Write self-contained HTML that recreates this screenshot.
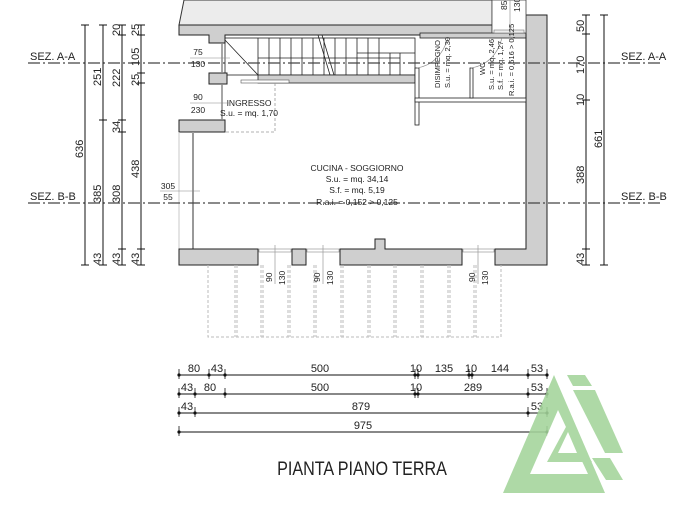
<!DOCTYPE html>
<html><head><meta charset="utf-8"><style>
html,body{margin:0;padding:0;background:#fff;}
svg{display:block;}
text{font-family:"Liberation Sans",sans-serif;fill:#222;}
</style></head><body>
<svg width="677" height="524" viewBox="0 0 677 524" xmlns="http://www.w3.org/2000/svg">
<polygon points="184,0 492,0 492,25 179,25" fill="#ececec" stroke="#333" stroke-width="1"/>
<polygon points="179,25 492,25 492,35 225,35 225,43 209,43 209,35 179,35" fill="#cfcfcf" stroke="#222" stroke-width="1"/>
<rect x="420" y="33" width="106" height="5" fill="#cfcfcf" stroke="#222" stroke-width="0.8"/>
<g stroke="#222" stroke-width="0.8" fill="none">
<rect x="225" y="38" width="190" height="37"/>
<line x1="225" y1="40" x2="258" y2="75"/>
<line x1="258" y1="58" x2="400" y2="58"/>
<line x1="258" y1="38" x2="258" y2="75"/><line x1="269" y1="38" x2="269" y2="75"/><line x1="280" y1="38" x2="280" y2="75"/>
<line x1="291" y1="38" x2="291" y2="75"/><line x1="302" y1="38" x2="302" y2="75"/><line x1="313" y1="38" x2="313" y2="75"/>
<line x1="324" y1="38" x2="324" y2="75"/><line x1="335" y1="38" x2="335" y2="75"/><line x1="346" y1="38" x2="346" y2="75"/>
<line x1="357" y1="38" x2="357" y2="75"/><line x1="368" y1="38" x2="368" y2="75"/><line x1="379" y1="38" x2="379" y2="75"/>
<line x1="390" y1="53" x2="390" y2="75"/><line x1="400" y1="53" x2="400" y2="75"/>
<line x1="357" y1="53" x2="415" y2="53"/>
<line x1="318" y1="35" x2="330" y2="75"/><line x1="322" y1="35" x2="334" y2="75"/>
</g>
<rect x="258" y="75" width="157" height="8" fill="#cfcfcf" stroke="#222" stroke-width="0.8"/>
<rect x="241" y="80" width="48" height="3" fill="#fff" stroke="#555" stroke-width="0.6"/>
<rect x="209" y="73" width="18" height="11" fill="#cfcfcf" stroke="#222" stroke-width="1"/>
<rect x="179" y="120" width="46" height="12" fill="#cfcfcf" stroke="#222" stroke-width="1"/>
<polyline points="275,83 275,132 225,132" fill="none" stroke="#999" stroke-width="0.8" stroke-dasharray="3,2"/>
<line x1="222" y1="43" x2="222" y2="73" stroke="#888" stroke-width="1.5"/>
<line x1="222" y1="84" x2="222" y2="120" stroke="#888" stroke-width="1.5"/>
<line x1="193" y1="132" x2="193" y2="249" stroke="#999" stroke-width="2"/>
<line x1="179" y1="132" x2="179" y2="249" stroke="#bbb" stroke-width="0.8"/>
<polygon points="526,15 547,15 547,265 495,265 495,249 526,249" fill="#cfcfcf" stroke="#222" stroke-width="1"/>
<rect x="492" y="0" width="34" height="33" fill="#fff" stroke="#444" stroke-width="0.8"/>
<rect x="494" y="30" width="30" height="3" fill="#eee" stroke="#777" stroke-width="0.6"/>
<rect x="415" y="68" width="4" height="57" fill="#fff" stroke="#222" stroke-width="0.8"/>
<rect x="415" y="98" width="111" height="4" fill="#fff" stroke="#222" stroke-width="0.8"/>
<rect x="470" y="68" width="3" height="30" fill="#fff" stroke="#222" stroke-width="0.8"/>
<path d="M417,68 Q440,64 448,38" fill="none" stroke="#888" stroke-width="0.6"/>
<path d="M471,68 Q495,64 502,38" fill="none" stroke="#888" stroke-width="0.6"/>
<g fill="#cfcfcf" stroke="#222" stroke-width="1">
<rect x="179" y="249" width="79" height="16"/>
<rect x="292" y="249" width="14" height="16"/>
<polygon points="340,249 375,249 375,239 385,239 385,249 462,249 462,265 340,265"/>
</g>
<g fill="#fff" stroke="#888" stroke-width="0.6">
<rect x="259" y="249" width="32" height="3"/><rect x="307" y="249" width="32" height="3"/><rect x="463" y="249" width="31" height="3"/>
</g>
<g fill="none" stroke="#bbb" stroke-width="1" stroke-dasharray="3,2">
<polyline points="208,265 208,337 501,337 501,265"/>
<line x1="235" y1="265" x2="235" y2="337"/><line x1="237" y1="265" x2="237" y2="337"/>
<line x1="261" y1="265" x2="261" y2="337"/><line x1="263" y1="265" x2="263" y2="337"/>
<line x1="288" y1="265" x2="288" y2="337"/><line x1="290" y1="265" x2="290" y2="337"/>
<line x1="314" y1="265" x2="314" y2="337"/><line x1="316" y1="265" x2="316" y2="337"/>
<line x1="341" y1="265" x2="341" y2="337"/><line x1="343" y1="265" x2="343" y2="337"/>
<line x1="368" y1="265" x2="368" y2="337"/><line x1="370" y1="265" x2="370" y2="337"/>
<line x1="394" y1="265" x2="394" y2="337"/><line x1="396" y1="265" x2="396" y2="337"/>
<line x1="421" y1="265" x2="421" y2="337"/><line x1="423" y1="265" x2="423" y2="337"/>
<line x1="448" y1="265" x2="448" y2="337"/><line x1="450" y1="265" x2="450" y2="337"/>
<line x1="474" y1="265" x2="474" y2="337"/><line x1="476" y1="265" x2="476" y2="337"/>
</g>
<g stroke="#999" stroke-width="0.7"><line x1="275" y1="245" x2="275" y2="284"/><line x1="323" y1="245" x2="323" y2="284"/><line x1="478" y1="245" x2="478" y2="284"/><line x1="510" y1="0" x2="510" y2="40"/></g>
<g font-size="8.5">
<text transform="translate(272,282) rotate(-90)">90</text><text transform="translate(285,285) rotate(-90)">130</text>
<text transform="translate(320,282) rotate(-90)">90</text><text transform="translate(333,285) rotate(-90)">130</text>
<text transform="translate(475,282) rotate(-90)">90</text><text transform="translate(488,285) rotate(-90)">130</text>
<text transform="translate(507,10) rotate(-90)">85</text><text transform="translate(520,12) rotate(-90)">130</text>
</g>
<g stroke="#444" stroke-width="1.2" stroke-dasharray="12,3,2,3">
<line x1="28" y1="63" x2="660" y2="63"/><line x1="28" y1="203" x2="660" y2="203"/>
</g>
<g font-size="11"><text x="30" y="60">SEZ. A-A</text><text x="30" y="200">SEZ. B-B</text><text x="621" y="60">SEZ. A-A</text><text x="621" y="200">SEZ. B-B</text></g>
<g font-size="8.5" text-anchor="middle">
<text x="357" y="171">CUCINA - SOGGIORNO</text>
<text x="357" y="182">S.u. = mq. 34,14</text>
<text x="357" y="193">S.f. = mq. 5,19</text>
<text x="357" y="205">R.a.i. = 0,152 &gt; 0,125</text>
<text x="249" y="106">INGRESSO</text>
<text x="249" y="116">S.u. = mq. 1,70</text>
<text x="198" y="55">75</text><text x="198" y="67">130</text>
<text x="198" y="100">90</text><text x="198" y="113">230</text>
<text x="168" y="189">305</text><text x="168" y="200">55</text>
</g>
<g stroke="#888" stroke-width="0.6"><line x1="190" y1="58" x2="230" y2="58"/><line x1="190" y1="103" x2="230" y2="103"/><line x1="160" y1="191" x2="200" y2="191"/></g>
<g font-size="7.5">
<text transform="translate(440,88) rotate(-90)">DISIMPEGNO</text>
<text transform="translate(450,88) rotate(-90)">S.u. = mq. 2,30</text>
<text transform="translate(485,75) rotate(-90)">WC</text>
<text transform="translate(494,90) rotate(-90)">S.u. = mq. 2,46</text>
<text transform="translate(503,90) rotate(-90)">S.f. = mq. 1,27</text>
<text transform="translate(514,96) rotate(-90)">R.a.i. = 0,516 &gt; 0,125</text>
</g>
<g stroke="#111" stroke-width="1">
<line x1="85" y1="25" x2="85" y2="265"/><line x1="103" y1="25" x2="103" y2="265"/>
<line x1="122" y1="25" x2="122" y2="265"/><line x1="141" y1="25" x2="141" y2="265"/>
<line x1="81" y1="25" x2="89" y2="25"/><line x1="81" y1="265" x2="89" y2="265"/>
<line x1="99" y1="25" x2="107" y2="25"/><line x1="99" y1="120" x2="107" y2="120"/><line x1="99" y1="265" x2="107" y2="265"/>
<line x1="118" y1="25" x2="126" y2="25"/><line x1="118" y1="35" x2="126" y2="35"/><line x1="118" y1="120" x2="126" y2="120"/><line x1="118" y1="132" x2="126" y2="132"/><line x1="118" y1="249" x2="126" y2="249"/><line x1="118" y1="265" x2="126" y2="265"/>
<line x1="137" y1="25" x2="145" y2="25"/><line x1="137" y1="35" x2="145" y2="35"/><line x1="137" y1="73" x2="145" y2="73"/><line x1="137" y1="83" x2="145" y2="83"/><line x1="137" y1="249" x2="145" y2="249"/><line x1="137" y1="265" x2="145" y2="265"/>
<line x1="582" y1="15" x2="590" y2="15"/><line x1="582" y1="34" x2="590" y2="34"/><line x1="582" y1="100" x2="590" y2="100"/><line x1="582" y1="249" x2="590" y2="249"/><line x1="582" y1="265" x2="590" y2="265"/>
<line x1="586" y1="15" x2="586" y2="265"/><line x1="604" y1="15" x2="604" y2="265"/>
<line x1="600" y1="15" x2="608" y2="15"/><line x1="600" y1="265" x2="608" y2="265"/>
</g>
<g font-size="11">
<text transform="translate(83,158) rotate(-90)">636</text>
<text transform="translate(101,86) rotate(-90)">251</text>
<text transform="translate(101,203) rotate(-90)">385</text>
<text transform="translate(101,265) rotate(-90)">43</text>
<text transform="translate(120,36) rotate(-90)">20</text>
<text transform="translate(120,87) rotate(-90)">222</text>
<text transform="translate(120,133) rotate(-90)">34</text>
<text transform="translate(120,203) rotate(-90)">308</text>
<text transform="translate(120,265) rotate(-90)">43</text>
<text transform="translate(139,36) rotate(-90)">25</text>
<text transform="translate(139,66) rotate(-90)">105</text>
<text transform="translate(139,86) rotate(-90)">25</text>
<text transform="translate(139,178) rotate(-90)">438</text>
<text transform="translate(139,265) rotate(-90)">43</text>
<text transform="translate(584,32) rotate(-90)">50</text>
<text transform="translate(584,74) rotate(-90)">170</text>
<text transform="translate(584,106) rotate(-90)">10</text>
<text transform="translate(584,184) rotate(-90)">388</text>
<text transform="translate(584,265) rotate(-90)">43</text>
<text transform="translate(602,148) rotate(-90)">661</text>
</g>
<g stroke="#111" stroke-width="1">
<line x1="179" y1="375" x2="547" y2="375"/><line x1="179" y1="394" x2="547" y2="394"/>
<line x1="179" y1="413" x2="547" y2="413"/><line x1="179" y1="432" x2="547" y2="432"/>
</g>
<g fill="#111">
<circle cx="179" cy="375" r="1.6"/><circle cx="209" cy="375" r="1.6"/><circle cx="225" cy="375" r="1.6"/><circle cx="415" cy="375" r="1.6"/><circle cx="418" cy="375" r="1.6"/><circle cx="469" cy="375" r="1.6"/><circle cx="472" cy="375" r="1.6"/><circle cx="528" cy="375" r="1.6"/><circle cx="547" cy="375" r="1.6"/>
<circle cx="179" cy="394" r="1.6"/><circle cx="195" cy="394" r="1.6"/><circle cx="225" cy="394" r="1.6"/><circle cx="415" cy="394" r="1.6"/><circle cx="418" cy="394" r="1.6"/><circle cx="528" cy="394" r="1.6"/><circle cx="547" cy="394" r="1.6"/>
<circle cx="179" cy="413" r="1.6"/><circle cx="195" cy="413" r="1.6"/><circle cx="528" cy="413" r="1.6"/><circle cx="547" cy="413" r="1.6"/>
<circle cx="179" cy="432" r="1.6"/><circle cx="547" cy="432" r="1.6"/>
</g>
<g stroke="#111" stroke-width="0.8">
<line x1="179" y1="369" x2="179" y2="379"/><line x1="209" y1="369" x2="209" y2="379"/><line x1="225" y1="369" x2="225" y2="379"/><line x1="415" y1="369" x2="415" y2="379"/><line x1="418" y1="369" x2="418" y2="379"/><line x1="469" y1="369" x2="469" y2="379"/><line x1="472" y1="369" x2="472" y2="379"/><line x1="528" y1="369" x2="528" y2="379"/><line x1="547" y1="369" x2="547" y2="379"/>
<line x1="179" y1="388" x2="179" y2="398"/><line x1="195" y1="388" x2="195" y2="398"/><line x1="225" y1="388" x2="225" y2="398"/><line x1="415" y1="388" x2="415" y2="398"/><line x1="418" y1="388" x2="418" y2="398"/><line x1="528" y1="388" x2="528" y2="398"/><line x1="547" y1="388" x2="547" y2="398"/>
<line x1="179" y1="407" x2="179" y2="417"/><line x1="195" y1="407" x2="195" y2="417"/><line x1="528" y1="407" x2="528" y2="417"/><line x1="547" y1="407" x2="547" y2="417"/>
<line x1="179" y1="426" x2="179" y2="436"/><line x1="547" y1="426" x2="547" y2="436"/>
</g>
<g font-size="11" text-anchor="middle">
<text x="194" y="372">80</text><text x="217" y="372">43</text><text x="320" y="372">500</text><text x="416" y="372">10</text><text x="444" y="372">135</text><text x="471" y="372">10</text><text x="500" y="372">144</text><text x="537" y="372">53</text>
<text x="187" y="391">43</text><text x="210" y="391">80</text><text x="320" y="391">500</text><text x="416" y="391">10</text><text x="473" y="391">289</text><text x="537" y="391">53</text>
<text x="187" y="410">43</text><text x="361" y="410">879</text><text x="537" y="410">53</text>
<text x="363" y="429">975</text>
</g>
<g opacity="0.88">
<g fill="#a3d49a">
<polygon points="503,493 554,375 605,493"/>
<polygon points="567,375 585,375 592,386 573,386"/>
<polygon points="573,390 595,390 623,453 605,453"/>
<polygon points="592,458 610,458 623,480 606,480"/>
</g>
<polygon points="530,474 558,410 588,474" fill="#fff"/>
<polygon points="547,462 567,425 592,462" fill="#a3d49a"/>
<polygon points="558,453 568,432 577,453" fill="#fff"/>
</g>
<text x="0" y="475" font-size="19" text-anchor="middle" transform="translate(362,0) scale(0.85,1)">PIANTA PIANO TERRA</text>
</svg>
</body></html>
